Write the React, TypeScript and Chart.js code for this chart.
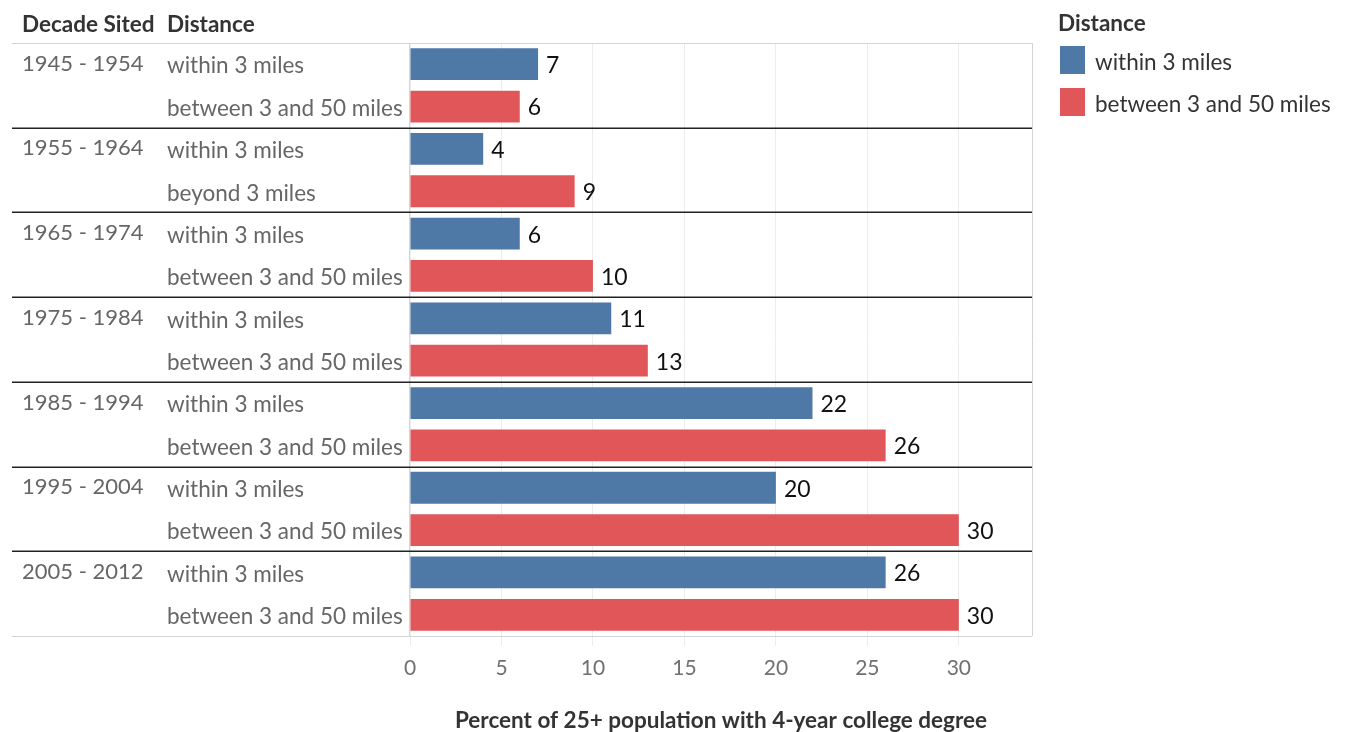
import React, { useEffect, useRef } from "react";
import { Chart, registerables } from "chart.js";

Chart.register(...registerables);

// Decades in which the sites were placed, and the two distance bands per decade
const decades = [
  "1945 - 1954",
  "1955 - 1964",
  "1965 - 1974",
  "1975 - 1984",
  "1985 - 1994",
  "1995 - 2004",
  "2005 - 2012",
];
const nearBandLabels = [
  "within 3 miles",
  "within 3 miles",
  "within 3 miles",
  "within 3 miles",
  "within 3 miles",
  "within 3 miles",
  "within 3 miles",
];
const farBandLabels = [
  "between 3 and 50 miles",
  "beyond 3 miles",
  "between 3 and 50 miles",
  "between 3 and 50 miles",
  "between 3 and 50 miles",
  "between 3 and 50 miles",
  "between 3 and 50 miles",
];

// Percent of 25+ population with a 4-year college degree
const withinValues = [7, 4, 6, 11, 22, 20, 26];
const betweenValues = [6, 9, 10, 13, 26, 30, 30];

const seriesNames = ["within 3 miles", "between 3 and 50 miles"];
const seriesColors = ["#4e79a7", "#e15759"];
const xTickValues = [0, 5, 10, 15, 20, 25, 30];
const xMax = 34;

const FONT = "Lato, 'Open Sans', sans-serif";

// One category row per (decade, band) pair
const rowKeys: string[] = [];
const rowBand: string[] = [];
const withinRows: (number | null)[] = [];
const betweenRows: (number | null)[] = [];
decades.forEach((d, i) => {
  rowKeys.push(d + "|near");
  rowBand.push(nearBandLabels[i]);
  withinRows.push(withinValues[i]);
  betweenRows.push(null);
  rowKeys.push(d + "|far");
  rowBand.push(farBandLabels[i]);
  withinRows.push(null);
  betweenRows.push(betweenValues[i]);
});

const tablePlugin = {
  id: "tableDecor",
  afterDraw(chart: any) {
    const { ctx, chartArea } = chart;
    const yScale = chart.scales.y;
    const left = 12;
    const { top, bottom, right } = chartArea;
    const plotLeft = chartArea.left;

    ctx.save();

    // header row
    ctx.fillStyle = "#333";
    ctx.font = `bold 22.5px ${FONT}`;
    ctx.textBaseline = "middle";
    ctx.textAlign = "left";
    ctx.fillText("Decade Sited", 22, 25);
    ctx.fillText("Distance", 167, 25);

    // outer frame
    ctx.strokeStyle = "#d4d4d4";
    ctx.lineWidth = 1;
    ctx.beginPath();
    ctx.moveTo(left, top + 0.5);
    ctx.lineTo(right, top + 0.5);
    ctx.moveTo(left, bottom + 0.5);
    ctx.lineTo(right, bottom + 0.5);
    ctx.moveTo(plotLeft - 0.5, top);
    ctx.lineTo(plotLeft - 0.5, bottom);
    ctx.moveTo(right + 0.5, top);
    ctx.lineTo(right + 0.5, bottom);
    ctx.stroke();

    // group separators between decades
    const rowH = yScale.getPixelForValue(1) - yScale.getPixelForValue(0);
    ctx.strokeStyle = "#222";
    ctx.lineWidth = 1.5;
    ctx.beginPath();
    for (let g = 1; g < decades.length; g++) {
      const y = Math.round(yScale.getPixelForValue(g * 2) - rowH / 2) + 0.25;
      ctx.moveTo(left, y);
      ctx.lineTo(right, y);
    }
    ctx.stroke();

    // row header labels
    ctx.fillStyle = "#666";
    rowKeys.forEach((_, i) => {
      const y = yScale.getPixelForValue(i);
      if (i % 2 === 0) {
        ctx.font = `22px ${FONT}`;
        ctx.fillText(decades[i / 2], 22, y - 0.5);
      }
      ctx.font = `22.5px ${FONT}`;
      ctx.fillText(rowBand[i], 167, y + 2);
    });

    // value labels at bar ends
    ctx.fillStyle = "#111";
    ctx.font = `23px ${FONT}`;
    chart.data.datasets.forEach((ds: any, di: number) => {
      const meta = chart.getDatasetMeta(di);
      meta.data.forEach((bar: any, i: number) => {
        const v = ds.data[i];
        if (v === null || v === undefined) return;
        ctx.fillText(String(v), bar.x + 8, bar.y + 1.5);
      });
    });

    // legend
    ctx.fillStyle = "#333";
    ctx.font = `bold 22.5px ${FONT}`;
    ctx.fillText("Distance", 1058, 24);
    ctx.font = `22.5px ${FONT}`;
    seriesNames.forEach((name, i) => {
      const y0 = 46 + i * 42;
      ctx.fillStyle = seriesColors[i];
      ctx.fillRect(1060, y0, 25, 28);
      ctx.fillStyle = "#333";
      ctx.fillText(name, 1095, y0 + 17);
    });

    ctx.restore();
  },
};

export default function App() {
  const canvasRef = useRef<HTMLCanvasElement | null>(null);

  useEffect(() => {
    const canvas = canvasRef.current;
    if (!canvas) return;
    const chart = new Chart(canvas, {
      type: "bar",
      data: {
        labels: rowKeys,
        datasets: [
          {
            label: seriesNames[0],
            data: withinRows,
            backgroundColor: seriesColors[0],
            categoryPercentage: 1,
            barPercentage: 0.75,
          },
          {
            label: seriesNames[1],
            data: betweenRows,
            backgroundColor: seriesColors[1],
            categoryPercentage: 1,
            barPercentage: 0.75,
          },
        ],
      },
      options: {
        indexAxis: "y",
        responsive: false,
        animation: false,
        layout: { padding: { left: 410, right: 319, top: 43, bottom: 0 } },
        plugins: {
          legend: { display: false },
          tooltip: { enabled: false },
        },
        scales: {
          y: {
            stacked: true,
            display: false,
          },
          x: {
            stacked: true,
            min: 0,
            max: xMax,
            afterBuildTicks: (scale: any) => {
              scale.ticks = xTickValues.map((v) => ({ value: v }));
            },
            afterFit: (scale: any) => {
              scale.height = 96;
            },
            border: { display: false },
            grid: {
              color: "#ececec",
              tickColor: "#ececec",
              tickLength: 10,
              drawTicks: true,
            },
            ticks: {
              color: "#707070",
              padding: 10,
              font: { family: FONT, size: 21 },
            },
            title: {
              display: true,
              text: "Percent of 25+ population with 4-year college degree",
              color: "#333",
              font: { family: FONT, size: 22.5, weight: "bold", lineHeight: 1 },
              padding: { top: 0, bottom: 0 },
            },
          },
        },
      },
      plugins: [tablePlugin],
    } as any);
    return () => chart.destroy();
  }, []);

  return (
    <div style={{ position: "fixed", left: 0, top: 0, width: 1351, height: 732, background: "#fff" }}>
      <canvas ref={canvasRef} width={1351} height={732} style={{ display: "block" }} />
    </div>
  );
}
